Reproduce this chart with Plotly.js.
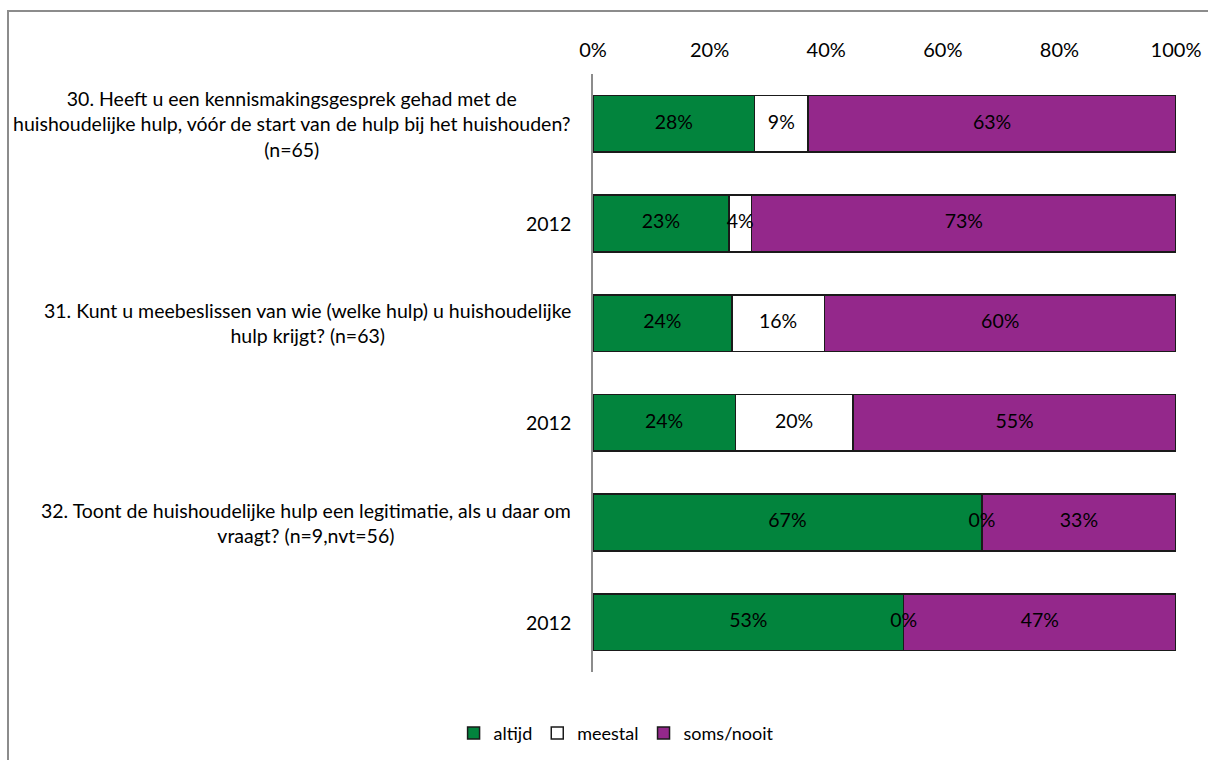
<!DOCTYPE html>
<html>
<head>
<meta charset="utf-8">
<script src="https://cdn.plot.ly/plotly-3.0.1.min.js"></script>
<style>
  html, body { margin: 0; padding: 0; background: #fff; overflow: hidden; }
  #wrap { position: relative; width: 1208px; height: 760px; }
  #chart { position: absolute; left: 0; top: 0; width: 1208px; height: 760px; }
  #frame { position: absolute; left: 7px; top: 10px; width: 1400px; height: 900px;
           border: 2px solid #8c8c8c; pointer-events: none; }
</style>
</head>
<body>
<div id="wrap">
  <div id="chart"></div>
  <div id="frame"></div>
</div>
<script>
// ---- data ----
const categories = [
  "30. Heeft u een kennismakingsgesprek gehad met de<br>huishoudelijke hulp, vóór de start van de hulp bij het huishouden?<br>(n=65)",
  "2012",
  "31. Kunt u meebeslissen van wie (welke hulp) u huishoudelijke<br>hulp krijgt? (n=63)",
  "2012",
  "32. Toont de huishoudelijke hulp een legitimatie, als u daar om<br>vraagt? (n=9,nvt=56)",
  "2012"
];
const seriesNames = ["altijd", "meestal", "soms/nooit"];
const altijd    = [27.7, 23.3, 23.8, 24.4, 66.7, 53.3];
const meestal   = [9.2,  3.9,  15.9, 20.2, 0,    0];
const somsNooit = [63.1, 72.8, 60.3, 55.4, 33.3, 46.7];
const tickVals  = [0, 20, 40, 60, 80, 100];
const tickText  = ["0%", "20%", "40%", "60%", "80%", "100%"];

// ---- styles ----
const colors = ["#02843D", "#FFFFFF", "#94288B"];
const FONT = "Lato, 'Open Sans', sans-serif";
const FS = 19.5;

const series = [altijd, meestal, somsNooit];
const yIdx = categories.map((_, i) => i);

const traces = [];
series.forEach((vals, s) => {
  traces.push({
    type: "bar",
    orientation: "h",
    name: seriesNames[s],
    x: vals,
    y: yIdx,
    width: 0.57,
    marker: { color: colors[s], line: { color: "#1a1a1a", width: 1.5 } },
    hoverinfo: "skip"
  });
});
// value labels centred on each segment
series.forEach((vals, s) => {
  const xs = vals.map((v, i) => {
    let start = 0;
    for (let k = 0; k < s; k++) start += series[k][i];
    return start + v / 2;
  });
  traces.push({
    type: "scatter",
    mode: "text",
    x: xs,
    y: yIdx,
    text: vals.map(v => Math.round(v) + "%"),
    textposition: "middle center",
    textfont: { family: FONT, size: FS, color: "#000" },
    showlegend: false,
    hoverinfo: "skip",
    cliponaxis: false
  });
});

const annotations = categories.map((c, i) => ({
  xref: "paper", yref: "y",
  x: 0, y: i,
  xanchor: "right", yanchor: "middle",
  xshift: -20,
  align: "center",
  text: c,
  showarrow: false,
  font: { family: FONT, size: FS, color: "#000" }
}));

const layout = {
  width: 1208, height: 760,
  margin: { l: 593, r: 32, t: 74, b: 88 },
  paper_bgcolor: "#fff", plot_bgcolor: "#fff",
  barmode: "stack",
  font: { family: FONT, size: FS, color: "#000" },
  xaxis: {
    side: "top",
    range: [0, 100],
    tickvals: tickVals,
    ticktext: tickText,
    showgrid: false,
    zeroline: false,
    showline: false,
    ticks: "",
    ticklabelstandoff: 12,
    tickfont: { family: FONT, size: 20, color: "#000" },
    fixedrange: true
  },
  yaxis: {
    range: [5.5, -0.5],
    showticklabels: false,
    showgrid: false,
    zeroline: false,
    showline: true,
    linecolor: "#8c8c8c",
    linewidth: 2,
    ticks: "",
    fixedrange: true
  },
  showlegend: true,
  legend: {
    orientation: "h",
    xref: "container", yref: "container",
    x: 0.51, xanchor: "center",
    y: 0.035, yanchor: "middle",
    font: { family: FONT, size: 18, color: "#000" },
    itemwidth: 30,
    traceorder: "normal"
  },
  annotations: annotations
};

Plotly.newPlot("chart", traces, layout, { staticPlot: true });
</script>
</body>
</html>
